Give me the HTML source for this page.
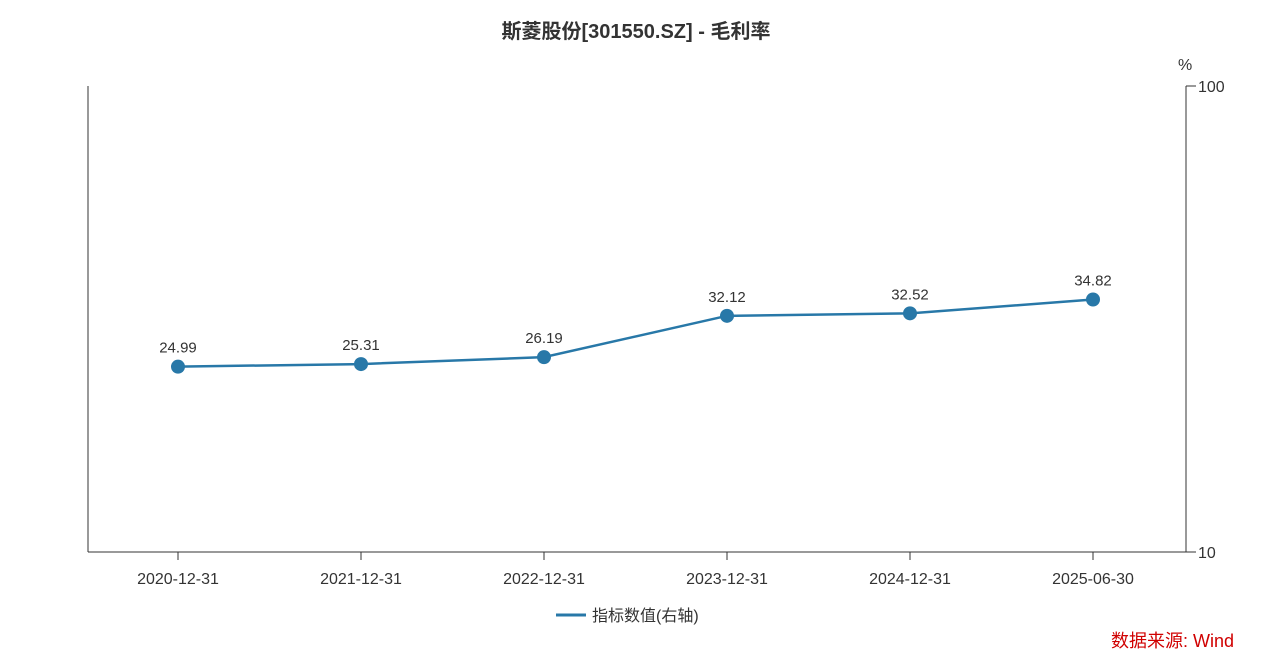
<!DOCTYPE html>
<html><head><meta charset="utf-8"><style>
body{margin:0;background:#fff;}
svg text{font-family:"Liberation Sans","Noto Sans CJK SC",sans-serif;}
</style></head><body>
<svg id="chart" width="1272" height="664" viewBox="0 0 1272 664" xmlns="http://www.w3.org/2000/svg">
<text x="636" y="38" text-anchor="middle" font-size="20" font-weight="bold" fill="#333">斯菱股份[301550.SZ] - 毛利率</text>
<line x1="88" y1="86" x2="88" y2="552" stroke="#333"/>
<line x1="88" y1="552" x2="1186" y2="552" stroke="#333"/>
<line x1="1186" y1="86" x2="1186" y2="552" stroke="#333"/>
<line x1="1186" y1="86" x2="1196" y2="86" stroke="#333"/>
<line x1="1186" y1="552" x2="1196" y2="552" stroke="#333"/>
<text x="1198" y="92" font-size="16" fill="#333">100</text>
<text x="1198" y="558" font-size="16" fill="#333">10</text>
<text x="1178" y="70" font-size="16" fill="#333">%</text>
<g id="xaxis"></g>
<g id="series"></g>
<line x1="556" y1="615" x2="586" y2="615" stroke="#2878a8" stroke-width="3"/>
<text x="592" y="621" font-size="16" fill="#333">指标数值(右轴)</text>
<text x="1234" y="647" text-anchor="end" font-size="18" fill="#d00000">数据来源: Wind</text>
</svg>
<script>
const categories=["2020-12-31","2021-12-31","2022-12-31","2023-12-31","2024-12-31","2025-06-30"];
const values=[24.99,25.31,26.19,32.12,32.52,34.82];
const NS="http://www.w3.org/2000/svg";
function xPos(i){return 178+i*183;}
function yPos(v){return 552-(Math.log10(v)-1)*466;}
const xa=document.getElementById('xaxis'),sg=document.getElementById('series');
function mk(t,a,p){const e=document.createElementNS(NS,t);for(const k in a)e.setAttribute(k,a[k]);p.appendChild(e);return e;}
categories.forEach((c,i)=>{
 const t=mk('line',{x1:xPos(i),y1:552,x2:xPos(i),y2:560,stroke:'#333'},xa);
 
 
 const l=mk('text',{x:xPos(i),y:584,'text-anchor':'middle','font-size':16,fill:'#333'},xa);
 l.textContent=c;
 
 
});
const line=mk('polyline',{points:values.map((v,i)=>xPos(i)+','+yPos(v)).join(' '),fill:'none',stroke:'#2878a8','stroke-width':2.5},sg);


values.forEach((v,i)=>{
 const p=mk('circle',{cx:xPos(i),cy:yPos(v),r:7,fill:'#2878a8'},sg);
 
 
 const t=mk('text',{x:xPos(i),y:yPos(v)-14,'text-anchor':'middle','font-size':15,fill:'#333'},sg);
 t.textContent=v.toFixed(2);
 
 
});
</script>
</body></html>
